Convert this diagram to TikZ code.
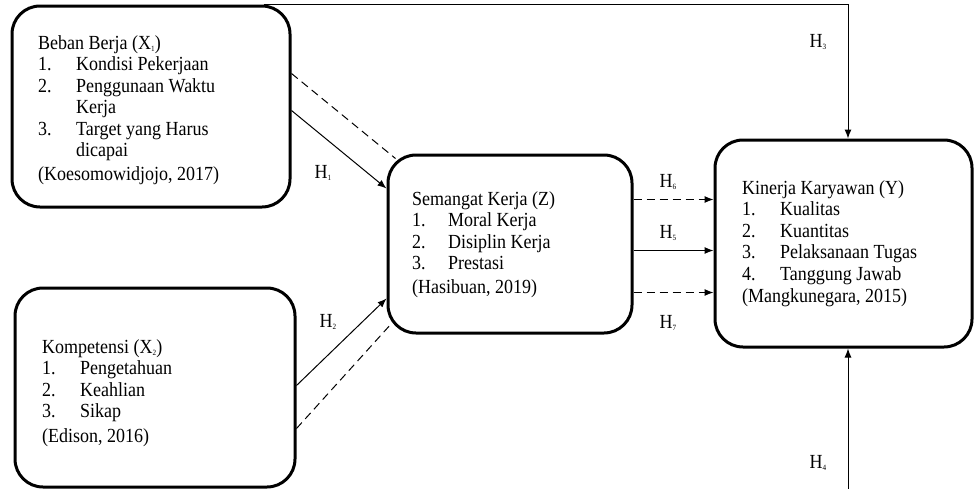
\documentclass[tikz,border=0pt]{standalone}
\usepackage{fontspec}
\setmainfont{Liberation Serif}[FakeStretch=0.9]
\usetikzlibrary{arrows.meta,fit}
% small lowered index, as in X1 or H1
\newcommand{\sbs}[1]{\raisebox{-2pt}{\fontsize{8}{8}\selectfont #1}}
% numbered item with a fixed hanging indent
\newcommand{\itm}[2]{\makebox[#1][l]{#2}}
\begin{document}
\begin{tikzpicture}[x=1pt,y=-1pt,
  box/.style={draw, line width=3pt, rounded corners=28pt, inner sep=0pt},
  link/.style={line width=1pt},
  arr/.style={link, -{Latex[length=9pt,width=7pt]}},
  dlink/.style={link, dash pattern=on 8pt off 5pt},
  darr/.style={dlink, -{Latex[length=9pt,width=7pt]}},
  txt/.style={anchor=base west, inner sep=0pt, font=\fontsize{20}{21.5}\selectfont},
  hyp/.style={inner sep=0pt, font=\fontsize{20}{21.5}\selectfont}]
\useasboundingbox (0,0) rectangle (974,488);

% variable boxes
\node[box, fit={(12,6) (290,207)}] (x1) {};
\node[box, fit={(15,288) (295,487)}] (x2) {};
\node[box, fit={(388,155) (632,333)}] (z) {};
\node[box, fit={(715,140) (972,347)}] (y) {};

% box contents
\node[txt] (t1) at (38,49) {\begin{tabular}[t]{@{}l@{}}
Beban Berja (X\sbs{1})\\
\itm{38pt}{1.}Kondisi Pekerjaan\\
\itm{38pt}{2.}Penggunaan Waktu\\
\hspace*{38pt}Kerja\\
\itm{38pt}{3.}Target yang Harus\\
\hspace*{38pt}dicapai\\[2pt]
(Koesomowidjojo, 2017)
\end{tabular}};

\node[txt] (t2) at (42,353) {\begin{tabular}[t]{@{}l@{}}
Kompetensi (X\sbs{2})\\
\itm{38pt}{1.}Pengetahuan\\
\itm{38pt}{2.}Keahlian\\
\itm{38pt}{3.}Sikap\\[3pt]
(Edison, 2016)
\end{tabular}};

\node[txt] (t3) at (412,205) {\begin{tabular}[t]{@{}l@{}}
Semangat Kerja (Z)\\
\itm{36pt}{1.}Moral Kerja\\
\itm{36pt}{2.}Disiplin Kerja\\
\itm{36pt}{3.}Prestasi\\[2pt]
(Hasibuan, 2019)
\end{tabular}};

\node[txt] (t4) at (742,194) {\begin{tabular}[t]{@{}l@{}}
Kinerja Karyawan (Y)\\
\itm{38pt}{1.}Kualitas\\
\itm{38pt}{2.}Kuantitas\\
\itm{38pt}{3.}Pelaksanaan Tugas\\
\itm{38pt}{4.}Tanggung Jawab\\[1pt]
(Mangkunegara, 2015)
\end{tabular}};

% paths into Z
\draw[arr]  ([yshift=-106pt]x1.north east) -- ([yshift=-35pt]z.north west);
\draw[dlink] ([yshift=-69pt]x1.north east) -- ([xshift=9pt,yshift=-5pt]z.north west);
\draw[arr]  ([yshift=-99pt]x2.north east) -- ([yshift=36pt]z.south west);
\draw[dlink] ([yshift=-142pt]x2.north east) -- ([xshift=5pt,yshift=11pt]z.south west);

% paths into Y
\draw[darr] ([yshift=-46pt]z.north east) coordinate (h6s) -- (h6s -| y.west);
\draw[arr]  ([yshift=-97pt]z.north east) coordinate (h5s) -- (h5s -| y.west);
\draw[darr] ([yshift=-139pt]z.north east) coordinate (h7s) -- (h7s -| y.west);
\draw[arr] ([xshift=-28pt]x1.north east) -| ([xshift=4.5pt]y.north);
\coordinate (h4s) at (848,490);
\draw[arr] (h4s) -- (h4s |- y.south);

% hypothesis labels
\node[hyp] (h1) at (323,173) {H\sbs{1}};
\node[hyp] (h2) at (328,322) {H\sbs{2}};
\node[hyp] (h3) at (818,42) {H\sbs{3}};
\node[hyp] (h4) at (818,463) {H\sbs{4}};
\node[hyp] (h6) at (668,182) {H\sbs{6}};
\node[hyp] (h5) at (668,233) {H\sbs{5}};
\node[hyp] (h7) at (668,323) {H\sbs{7}};
\end{tikzpicture}
\end{document}
